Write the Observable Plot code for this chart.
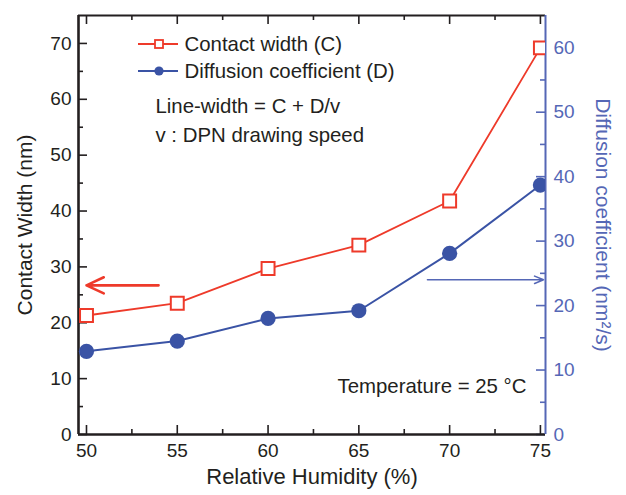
<!DOCTYPE html>
<html>
<head>
<meta charset="utf-8">
<script src="https://cdn.jsdelivr.net/npm/d3@7"></script>
<script src="https://cdn.jsdelivr.net/npm/@observablehq/plot@0.6"></script>
<style>
  html, body { margin: 0; padding: 0; background: #fff; }
  #chart svg { display: block; }
</style>
</head>
<body>
<div id="chart"></div>
<script>
// ---- data ----
const humidity = [50, 55, 60, 65, 70, 75];
const contactWidth = [21.3, 23.5, 29.7, 33.9, 41.8, 69.2];   // nm (left axis)
const diffusion = [12.9, 14.5, 18.0, 19.2, 28.1, 38.7];      // nm²/s (right axis)

const xTicks = [50, 55, 60, 65, 70, 75];
const xMinor = [52.5, 57.5, 62.5, 67.5, 72.5];
const leftTicks = [0, 10, 20, 30, 40, 50, 60, 70];
const leftMinor = [5, 15, 25, 35, 45, 55, 65];
const rightTicks = [0, 10, 20, 30, 40, 50, 60];
const rightMinor = [5, 15, 25, 35, 45, 55];

const xDomain = [49.56, 75.28];
const leftDomain = [0, 75];
const rightMax = 65;

const legendLabels = ["Contact width (C)", "Diffusion coefficient (D)"];
const noteLines = ["Line-width = C + D/v", "v : DPN drawing speed"];
const tempNote = "Temperature = 25 °C";

// arrows pointing at the axes (x in humidity, y in each axis' units)
const redArrow = [{x1: 53.97, x2: 50.0, y: 26.7}];
const blueArrow = [{x1: 68.78, x2: 75.17, y: 24.0}];

// ---- styling ----
const RED = "#ee3a2a";
const BLUE = "#3a53a5";
const BLUE_AXIS = "#5567b6";
const INK = "#231f20";
const FONT = "'Liberation Sans', Arial, Helvetica, sans-serif";

const W = 626, H = 495;
const mL = 78, mR = 81, mT = 15, mB = 61;
const pw = W - mL - mR, ph = H - mT - mB;
const k = leftDomain[1] / rightMax; // right -> left units

const rows = humidity.map((h, i) => ({h, c: contactWidth[i], d: diffusion[i] * k}));
const toLeft = v => v * k;

const chart = Plot.plot({
  width: W, height: H,
  marginLeft: mL, marginRight: mR, marginTop: mT, marginBottom: mB,
  style: {fontFamily: FONT, fontSize: "19px", background: "#fff", color: INK, overflow: "visible"},
  x: {domain: xDomain, axis: null},
  y: {domain: leftDomain, axis: null},
  marks: [
    // ticks (inward)
    Plot.tickY(leftTicks, {y: d => d, insetRight: pw - 9, stroke: INK, strokeWidth: 1.6}),
    Plot.tickY(leftMinor, {y: d => d, insetRight: pw - 5, stroke: INK, strokeWidth: 1.6}),
    Plot.tickY(rightTicks.map(toLeft), {y: d => d, insetLeft: pw - 9, stroke: BLUE_AXIS, strokeWidth: 1.6}),
    Plot.tickY(rightMinor.map(toLeft), {y: d => d, insetLeft: pw - 5, stroke: BLUE_AXIS, strokeWidth: 1.6}),
    Plot.tickX(xTicks, {x: d => d, insetTop: ph - 9, stroke: INK, strokeWidth: 1.6}),
    Plot.tickX(xMinor, {x: d => d, insetTop: ph - 5, stroke: INK, strokeWidth: 1.6}),
    Plot.tickX(xTicks, {x: d => d, insetBottom: ph - 9, stroke: INK, strokeWidth: 1.6}),
    Plot.tickX(xMinor, {x: d => d, insetBottom: ph - 5, stroke: INK, strokeWidth: 1.6}),

    // frame lines
    Plot.ruleY([leftDomain[1]], {stroke: INK, strokeWidth: 1.8}),
    Plot.ruleY([0], {stroke: INK, strokeWidth: 2.6}),
    Plot.ruleX([xDomain[0]], {stroke: INK, strokeWidth: 2.6}),
    Plot.ruleX([xDomain[1]], {stroke: BLUE_AXIS, strokeWidth: 2}),

    // tick labels
    Plot.axisY({ticks: leftTicks, tickSize: 0, tickPadding: 7, label: null, fontSize: 19, color: INK}),
    Plot.axisY({anchor: "right", ticks: rightTicks.map(toLeft), tickFormat: d => Math.round(d / k), tickSize: 0, tickPadding: 8, label: null, fontSize: 19, color: BLUE_AXIS}),
    Plot.axisX({ticks: xTicks, tickSize: 0, tickPadding: 9, label: null, fontSize: 19, color: INK}),

    // axis titles
    Plot.text(["Contact Width (nm)"], {frameAnchor: "left", textAnchor: "middle", lineAnchor: "middle", dx: -53, rotate: -90, fontSize: 21, fill: INK}),
    Plot.text(["Diffusion coefficient (nm²/s)"], {frameAnchor: "right", textAnchor: "middle", lineAnchor: "middle", dx: 57, rotate: 90, fontSize: 21, fill: BLUE_AXIS}),
    Plot.text(["Relative Humidity (%)"], {frameAnchor: "bottom", dy: 49, fontSize: 22, fill: INK}),

    // data
    Plot.line(rows, {x: "h", y: "c", stroke: RED, strokeWidth: 1.8}),
    Plot.line(rows, {x: "h", y: "d", stroke: BLUE, strokeWidth: 2}),
    Plot.dot(rows, {x: "h", y: "c", symbol: "square", r: 7.3, fill: "#fff", stroke: RED, strokeWidth: 2, clip: true}),
    Plot.dot(rows, {x: "h", y: "d", r: 7.6, fill: BLUE, stroke: null, clip: true}),

    // arrows
    Plot.arrow(redArrow, {x1: "x1", x2: "x2", y1: "y", y2: "y", stroke: RED, strokeWidth: 2.6, headLength: 11, headAngle: 50}),
    Plot.arrow(blueArrow, {x1: "x1", x2: "x2", y1: d => toLeft(d.y), y2: d => toLeft(d.y), stroke: BLUE_AXIS, strokeWidth: 1.6, headLength: 9, headAngle: 45}),

    // annotations
    Plot.text([legendLabels[0]], {frameAnchor: "top-left", dx: 106, dy: 29, textAnchor: "start", lineAnchor: "middle", fontSize: 20.4, fill: INK}),
    Plot.text([legendLabels[1]], {frameAnchor: "top-left", dx: 106, dy: 56, textAnchor: "start", lineAnchor: "middle", fontSize: 20.4, fill: INK}),
    Plot.text([noteLines[0]], {frameAnchor: "top-left", dx: 77, dy: 91, textAnchor: "start", lineAnchor: "middle", fontSize: 20.4, fill: INK}),
    Plot.text([noteLines[1]], {frameAnchor: "top-left", dx: 77, dy: 120, textAnchor: "start", lineAnchor: "middle", fontSize: 20.4, fill: INK}),
    Plot.text([tempNote], {frameAnchor: "top-left", dx: 259, dy: 371, textAnchor: "start", lineAnchor: "middle", fontSize: 20.4, fill: INK})
  ]
});

// legend swatches
const svg = d3.select(chart);
const g = svg.append("g");
const legY = [44, 71];
g.append("line").attr("x1", 138).attr("x2", 178).attr("y1", legY[0]).attr("y2", legY[0]).attr("stroke", RED).attr("stroke-width", 2);
g.append("rect").attr("x", 155).attr("y", legY[0] - 4).attr("width", 8).attr("height", 8).attr("fill", "#fff").attr("stroke", RED).attr("stroke-width", 1.8);
g.append("line").attr("x1", 138).attr("x2", 178).attr("y1", legY[1]).attr("y2", legY[1]).attr("stroke", BLUE).attr("stroke-width", 2);
g.append("circle").attr("cx", 159).attr("cy", legY[1]).attr("r", 4.6).attr("fill", BLUE);

document.getElementById("chart").appendChild(chart);
</script>
</body>
</html>
